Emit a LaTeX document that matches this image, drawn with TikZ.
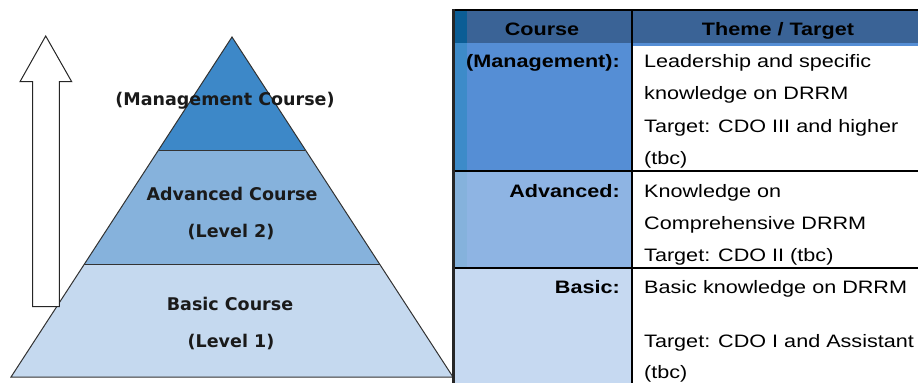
\documentclass[tikz,border=0pt]{standalone}
\usepackage{fontspec}
\setmainfont{Liberation Sans}
\newfontfamily\pyrfont{DejaVu Sans}
\newcommand{\W}[1]{\scalebox{1.2}[1]{#1}}
\definecolor{pyrtop}{RGB}{61,136,200}
\definecolor{pyrmid}{RGB}{134,178,220}
\definecolor{pyrbot}{RGB}{197,217,239}
\definecolor{hdr}{RGB}{58,99,150}
\definecolor{hdrstrip}{RGB}{11,93,149}
\definecolor{mgmt}{RGB}{85,142,213}
\definecolor{mgmtstrip}{RGB}{61,139,201}
\definecolor{adv}{RGB}{142,180,227}
\definecolor{advstrip}{RGB}{133,178,220}
\definecolor{bas}{RGB}{198,217,241}
\definecolor{pyrtext}{RGB}{26,26,26}
\tikzset{
  pyrlabel/.style={font=\pyrfont\bfseries\fontsize{17.5}{20}\selectfont, text=pyrtext, inner sep=0pt, anchor=base},
  tabtext/.style={font=\fontsize{18}{20}\selectfont, inner sep=0pt, anchor=base west},
  tabbold/.style={font=\bfseries\fontsize{18}{20}\selectfont, inner sep=0pt, anchor=base east},
  tabhead/.style={font=\bfseries\fontsize{18}{20}\selectfont, inner sep=0pt, anchor=base},
  grid/.style={line width=2.5pt, draw=black},
  layer/.style={draw=black!80, line width=1pt},
}
\begin{document}
\begin{tikzpicture}[x=1pt,y=-1pt]
\useasboundingbox (0,0) rectangle (918,383);
% pyramid points
\coordinate (apex) at (232,37);
\coordinate (l1) at (158.6,150);
\coordinate (r1) at (305.4,150);
\coordinate (l2) at (84.4,264);
\coordinate (r2) at (379.6,264);
\coordinate (bl) at (11,377);
\coordinate (br) at (453,377);
\fill[pyrbot] (l2) -- (r2) -- (br) -- (bl) -- cycle;
\fill[pyrmid] (l1) -- (r1) -- (r2) -- (l2) -- cycle;
\fill[pyrtop] (apex) -- (r1) -- (l1) -- cycle;
\draw[layer] (apex) -- (br) -- (bl) -- cycle;
\draw[layer] (l1) -- (r1);
\draw[layer] (l2) -- (r2);
% arrow
\draw[fill=white, draw=black!85, line width=1pt, line join=miter]
  (45.7,36) -- (71.7,81.7) -- (59.3,81.7) -- (59.3,306.7) -- (32.7,306.7)
  -- (32.7,81.7) -- (20,81.7) -- cycle;
% pyramid labels
\node[pyrlabel] (tmg) at (225,105) {(Management Course)};
\node[pyrlabel] (tadv) at (232,200) {Advanced Course};
\node[pyrlabel] (tl2) at (231,237) {(Level 2)};
\node[pyrlabel] (tbas) at (230,310) {Basic Course};
\node[pyrlabel] (tl1) at (231,347) {(Level 1)};
% table fills
\fill[hdr] (453,10) rectangle (918,43);
\fill[hdrstrip] (453,10) rectangle (467,43);
\fill[mgmt] (453,43) rectangle (632,171);
\fill[mgmtstrip] (453,43) rectangle (467,171);
\fill[mgmt] (632,43) rectangle (918,45.5);
\fill[adv] (453,171) rectangle (632,268);
\fill[advstrip] (453,171) rectangle (467,268);
\fill[bas] (453,268) rectangle (632,383);
% grid lines
\draw[grid] (452,10) -- (918,10);
\draw[grid, draw=black!85] (453.5,9) -- (453.5,383);
\draw[grid] (632,9) -- (632,383);
\draw[grid] (455,171) -- (918,171);
\draw[grid] (455,268) -- (918,268);
% header
\node[tabhead] (hc) at (542,35) {\W{Course}};
\node[tabhead] (ht) at (778,35) {\W{Theme / Target}};
% management row
\node[tabbold] (lm) at (620,67) {\W{(Management):}};
\node[tabtext] (m1) at (644,67) {\W{Leadership and specific}};
\node[tabtext] (m2) at (644,99.5) {\W{knowledge on DRRM}};
\node[tabtext] (m3) at (644,132) {\W{Target: CDO III and higher}};
\node[tabtext] (m4) at (644,164.5) {\W{(tbc)}};
% advanced row
\node[tabbold] (la) at (620,197) {\W{Advanced:}};
\node[tabtext] (a1) at (644,197) {\W{Knowledge on}};
\node[tabtext] (a2) at (644,229.5) {\W{Comprehensive DRRM}};
\node[tabtext] (a3) at (644,261) {\W{Target: CDO II (tbc)}};
% basic row
\node[tabbold] (lb) at (620,293) {\W{Basic:}};
\node[tabtext] (b1) at (644,293) {\W{Basic knowledge on DRRM}};
\node[tabtext] (b2) at (644,347) {\W{Target: CDO I and Assistant}};
\node[tabtext] (b3) at (644,378) {\W{(tbc)}};
\end{tikzpicture}
\end{document}
